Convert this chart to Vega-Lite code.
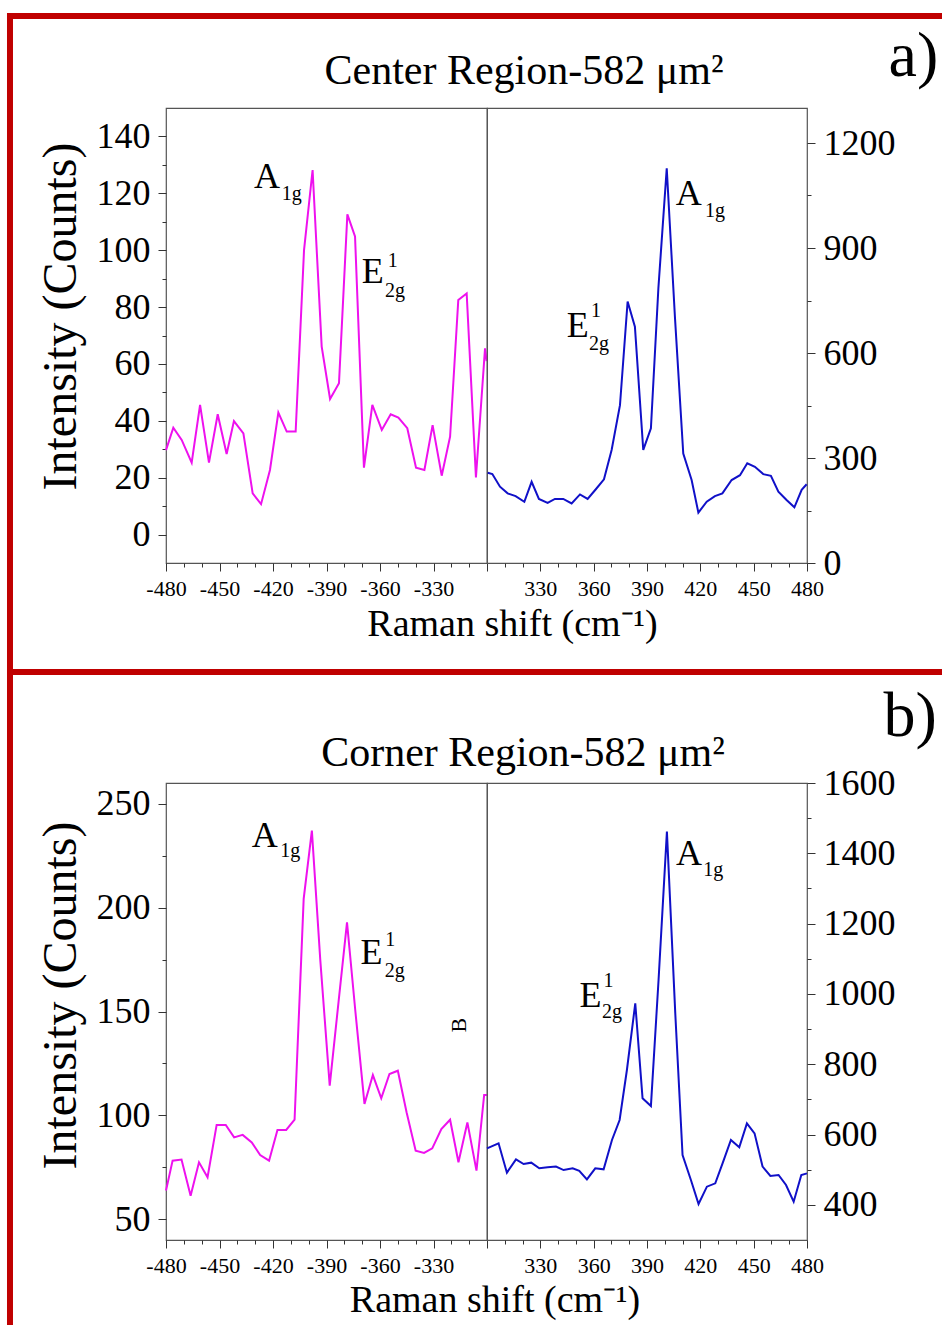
{
  "$schema": "https://vega.github.io/schema/vega-lite/v6.json",
  "background": "white",
  "padding": {"left": 5, "top": 11, "right": 0, "bottom": 0},
  "columns": 2,
  "spacing": {"row": 220, "column": 0},
  "bounds": "flush",
  "datasets": {
    "centerNeg": [
      {"shift": -480, "counts": 29.7}, {"shift": -475.9, "counts": 37.6}, {"shift": -471.2, "counts": 33.3}, {"shift": -465.6, "counts": 25.3},
      {"shift": -460.9, "counts": 45.6}, {"shift": -455.9, "counts": 25.3}, {"shift": -451, "counts": 42.3}, {"shift": -446, "counts": 28.3},
      {"shift": -441.9, "counts": 39.9}, {"shift": -436.6, "counts": 35.6}, {"shift": -431.4, "counts": 14.5}, {"shift": -426.7, "counts": 10.7},
      {"shift": -421.7, "counts": 22.7}, {"shift": -417, "counts": 42.9}, {"shift": -412.3, "counts": 36.2}, {"shift": -407.3, "counts": 36.2},
      {"shift": -402.6, "counts": 100}, {"shift": -397.8, "counts": 128.2}, {"shift": -392.7, "counts": 66.1}, {"shift": -388, "counts": 47.7},
      {"shift": -383, "counts": 53.2}, {"shift": -378.3, "counts": 112.6}, {"shift": -374, "counts": 104.8}, {"shift": -369, "counts": 23.5},
      {"shift": -364.3, "counts": 45.6}, {"shift": -359, "counts": 36.8}, {"shift": -354, "counts": 42.3}, {"shift": -349.7, "counts": 41.1},
      {"shift": -344.7, "counts": 37.4}, {"shift": -339.8, "counts": 23.5}, {"shift": -335.1, "counts": 22.7}, {"shift": -330.5, "counts": 38.5},
      {"shift": -325.4, "counts": 20.7}, {"shift": -320.7, "counts": 34.4}, {"shift": -316.1, "counts": 82.5}, {"shift": -311.4, "counts": 84.8},
      {"shift": -306.2, "counts": 20.1}, {"shift": -301.1, "counts": 65.5}, {"shift": -300.2, "counts": 61}
    ],
    "centerPos": [
      {"shift": 300.4, "counts": 258}, {"shift": 303, "counts": 254}, {"shift": 307.3, "counts": 218}, {"shift": 311.6, "counts": 199},
      {"shift": 316.1, "counts": 191}, {"shift": 321, "counts": 175}, {"shift": 325.1, "counts": 232}, {"shift": 329.2, "counts": 183},
      {"shift": 334.1, "counts": 172}, {"shift": 338.2, "counts": 183}, {"shift": 342.9, "counts": 183}, {"shift": 347.6, "counts": 170},
      {"shift": 352.3, "counts": 196}, {"shift": 356.6, "counts": 183}, {"shift": 361.1, "counts": 210}, {"shift": 365.8, "counts": 239},
      {"shift": 370.1, "counts": 323}, {"shift": 374.8, "counts": 451}, {"shift": 379.1, "counts": 747}, {"shift": 383.2, "counts": 675},
      {"shift": 387.9, "counts": 323}, {"shift": 392.2, "counts": 385}, {"shift": 396.4, "counts": 785}, {"shift": 401.1, "counts": 1128},
      {"shift": 405.7, "counts": 704}, {"shift": 410.4, "counts": 313}, {"shift": 415.1, "counts": 237}, {"shift": 418.9, "counts": 144},
      {"shift": 423.6, "counts": 175}, {"shift": 428.2, "counts": 191}, {"shift": 432.4, "counts": 199}, {"shift": 437.6, "counts": 237},
      {"shift": 442.3, "counts": 251}, {"shift": 446.4, "counts": 285}, {"shift": 450.7, "counts": 275}, {"shift": 455.4, "counts": 254},
      {"shift": 459.7, "counts": 249}, {"shift": 463.9, "counts": 204}, {"shift": 468.5, "counts": 180}, {"shift": 472.9, "counts": 159},
      {"shift": 477, "counts": 209}, {"shift": 479.8, "counts": 225}
    ],
    "cornerNeg": [
      {"shift": -480, "counts": 63.8}, {"shift": -476.3, "counts": 78.2}, {"shift": -471.3, "counts": 78.7}, {"shift": -466.2, "counts": 61.3},
      {"shift": -461.5, "counts": 77.4}, {"shift": -456.7, "counts": 70.2}, {"shift": -451.6, "counts": 95.4}, {"shift": -446.5, "counts": 95.4},
      {"shift": -441.8, "counts": 89.4}, {"shift": -437, "counts": 90.6}, {"shift": -431.9, "counts": 87}, {"shift": -427.2, "counts": 80.9},
      {"shift": -422.2, "counts": 78.2}, {"shift": -417.5, "counts": 93}, {"shift": -412.6, "counts": 93}, {"shift": -407.9, "counts": 97.9},
      {"shift": -402.8, "counts": 204.2}, {"shift": -398.2, "counts": 237.1}, {"shift": -393.5, "counts": 175}, {"shift": -388.2, "counts": 114.3},
      {"shift": -383.2, "counts": 155}, {"shift": -378.5, "counts": 192.9}, {"shift": -373.8, "counts": 150}, {"shift": -368.7, "counts": 105.5},
      {"shift": -364, "counts": 119.4}, {"shift": -359.3, "counts": 108.2}, {"shift": -354.7, "counts": 119.9}, {"shift": -350, "counts": 121.5},
      {"shift": -345.1, "counts": 101.5}, {"shift": -340, "counts": 83}, {"shift": -335.3, "counts": 81.9}, {"shift": -330.7, "counts": 84.1},
      {"shift": -325.6, "counts": 93.4}, {"shift": -320.7, "counts": 97.9}, {"shift": -316, "counts": 77.4}, {"shift": -311, "counts": 96.6},
      {"shift": -305.9, "counts": 73.4}, {"shift": -301.6, "counts": 109.8}, {"shift": -300, "counts": 109.8}
    ],
    "cornerPos": [
      {"shift": 300, "counts": 560.8}, {"shift": 306.5, "counts": 575}, {"shift": 311.2, "counts": 491.5}, {"shift": 316.3, "counts": 529.5},
      {"shift": 320.6, "counts": 516}, {"shift": 324.9, "counts": 520}, {"shift": 329.4, "counts": 504}, {"shift": 334.1, "counts": 507},
      {"shift": 338.8, "counts": 509}, {"shift": 343.1, "counts": 499}, {"shift": 348.2, "counts": 504}, {"shift": 351.9, "counts": 497},
      {"shift": 356.2, "counts": 472.6}, {"shift": 360.9, "counts": 504}, {"shift": 365.6, "counts": 501}, {"shift": 370.3, "counts": 584.5},
      {"shift": 374.6, "counts": 641.4}, {"shift": 378.7, "counts": 783.6}, {"shift": 383.4, "counts": 973.2}, {"shift": 387.5, "counts": 703},
      {"shift": 392.2, "counts": 681}, {"shift": 396.5, "counts": 1039.6}, {"shift": 401.2, "counts": 1461.6}, {"shift": 405.9, "counts": 944.8},
      {"shift": 410, "counts": 541.8}, {"shift": 414.7, "counts": 470.7}, {"shift": 419, "counts": 402.4}, {"shift": 423.7, "counts": 451.7},
      {"shift": 428.4, "counts": 461.2}, {"shift": 432.5, "counts": 518.1}, {"shift": 437.2, "counts": 584.5}, {"shift": 441.9, "counts": 563.6},
      {"shift": 446.2, "counts": 631.9}, {"shift": 450.5, "counts": 603.4}, {"shift": 455, "counts": 509}, {"shift": 459.4, "counts": 482.1},
      {"shift": 464, "counts": 484.9}, {"shift": 468.2, "counts": 456.5}, {"shift": 472.5, "counts": 409}, {"shift": 476.8, "counts": 484.9},
      {"shift": 480, "counts": 489.6}
    ],
    "bigCenterNeg": [{"x": -430.65, "y": 121.87, "label": "A"}, {"x": -370.26, "y": 88.46, "label": "E"}],
    "subCenterNeg": [{"x": -415.12, "y": 117.65, "label": "1g"}, {"x": -355.68, "y": 94.09, "label": "1"}, {"x": -357.2, "y": 83.54, "label": "2g"}],
    "bigCenterPos": [{"x": 406.14, "y": 1022.86, "label": "A"}, {"x": 344.83, "y": 645.7, "label": "E"}],
    "subCenterPos": [{"x": 422.6, "y": 988.6, "label": "1g"}, {"x": 358.5, "y": 702.9, "label": "1"}, {"x": 357.4, "y": 608.6, "label": "2g"}],
    "bigCornerNeg": [{"x": -431.9, "y": 229.2, "label": "A"}, {"x": -370.99, "y": 172.87, "label": "E"}],
    "subCornerNeg": [{"x": -416, "y": 224.4, "label": "1g"}, {"x": -357.1, "y": 181.5, "label": "1"}, {"x": -357.3, "y": 166.6, "label": "2g"}],
    "strayCornerNeg": [{"x": -315.6, "y": 143.4, "label": "B"}],
    "bigCornerPos": [{"x": 406.3, "y": 1366.7, "label": "A"}, {"x": 352.1, "y": 963.7, "label": "E"}],
    "subCornerPos": [{"x": 421.7, "y": 1335.4, "label": "1g"}, {"x": 365.6, "y": 1019.7, "label": "1"}, {"x": 364.7, "y": 931.5, "label": "2g"}]
  },
  "concat": [
    {
      "width": 321,
      "height": 455,
      "resolve": {"axis": {"x": "independent", "y": "independent"}},
      "layer": [
        {
          "data": {"name": "centerNeg"},
          "mark": {"type": "line", "color": "#ee11ee", "strokeWidth": 2},
          "encoding": {
            "x": {"field": "shift", "type": "quantitative", "scale": {"domain": [-480, -300], "nice": false, "zero": false},
              "axis": {"orient": "bottom", "values": [-480, -470, -460, -450, -440, -430, -420, -410, -400, -390, -380, -370, -360, -350, -340, -330, -320, -310, -300],
                "labelExpr": "datum.value % 30 === 0 && datum.value < -300 ? '' + datum.value : ''",
                "tickSize": {"condition": {"test": "datum.value % 30 === 0", "value": 8}, "value": 4},
                "labelFontSize": 22, "labelPadding": 7, "labelOverlap": false, "labelFlush": false, "labelBound": false,
                "title": "Raman shift (cm⁻¹)", "titleFontSize": 38, "titleX": 346, "titleY": 72, "titleAlign": "center", "titleBaseline": "alphabetic"}},
            "y": {"field": "counts", "type": "quantitative", "scale": {"domain": [-10, 150], "nice": false, "zero": false},
              "axis": {"orient": "left", "values": [0, 10, 20, 30, 40, 50, 60, 70, 80, 90, 100, 110, 120, 130, 140],
                "labelExpr": "datum.value % 20 === 0 ? '' + datum.value : ''",
                "tickSize": {"condition": {"test": "datum.value % 20 === 0", "value": 8}, "value": 4},
                "labelFontSize": 36, "labelPadding": 8, "labelOverlap": false,
                "title": "Intensity (Counts)", "titleFontSize": 48, "titleAngle": 270, "titleX": -91, "titleY": 208, "titleAlign": "center", "titleBaseline": "alphabetic"}}
          }
        },
        {
          "data": {"name": "bigCenterNeg"},
          "mark": {"type": "text", "align": "left", "baseline": "alphabetic", "fontSize": 36, "font": "Liberation Serif", "color": "#000000"},
          "encoding": {
            "x": {"field": "x", "type": "quantitative", "scale": {"domain": [-480, -300], "nice": false, "zero": false},
              "axis": {"orient": "top", "domain": false, "ticks": false, "labels": false, "grid": false,
                "title": "Center Region-582 μm²", "titleFontSize": 42, "titleX": 357.5, "titleY": -25, "titleAlign": "center", "titleBaseline": "alphabetic"}},
            "y": {"field": "y", "type": "quantitative", "scale": {"domain": [-10, 150], "nice": false, "zero": false}, "axis": null},
            "text": {"field": "label"}
          }
        },
        {
          "data": {"name": "subCenterNeg"},
          "mark": {"type": "text", "align": "left", "baseline": "alphabetic", "fontSize": 20, "font": "Liberation Serif", "color": "#000000"},
          "encoding": {
            "x": {"field": "x", "type": "quantitative", "scale": {"domain": [-480, -300], "nice": false, "zero": false}, "axis": null},
            "y": {"field": "y", "type": "quantitative", "scale": {"domain": [-10, 150], "nice": false, "zero": false}, "axis": null},
            "text": {"field": "label"}
          }
        },
        {
          "data": {"values": [{}]},
          "mark": {"type": "rule", "color": "#c00000", "strokeWidth": 6, "strokeCap": "square"},
          "encoding": {
            "x": {"datum": -567.48, "type": "quantitative", "scale": {"domain": [-480, -300], "nice": false, "zero": false}, "axis": null},
            "y": {"datum": 182.35, "type": "quantitative", "scale": {"domain": [-10, 150], "nice": false, "zero": false}, "axis": null},
            "y2": {"datum": -276.9}
          }
        },
        {
          "data": {"values": [{}]},
          "mark": {"type": "rule", "color": "#c00000", "strokeWidth": 6, "strokeCap": "square"},
          "encoding": {
            "x": {"datum": -567.48, "type": "quantitative", "scale": {"domain": [-480, -300], "nice": false, "zero": false}, "axis": null},
            "x2": {"datum": -46.54},
            "y": {"datum": 182.35, "type": "quantitative", "scale": {"domain": [-10, 150], "nice": false, "zero": false}, "axis": null}
          }
        },
        {
          "data": {"values": [{}]},
          "mark": {"type": "rule", "color": "#c00000", "strokeWidth": 6, "strokeCap": "square"},
          "encoding": {
            "x": {"datum": -567.48, "type": "quantitative", "scale": {"domain": [-480, -300], "nice": false, "zero": false}, "axis": null},
            "x2": {"datum": -46.54},
            "y": {"datum": -48.33, "type": "quantitative", "scale": {"domain": [-10, 150], "nice": false, "zero": false}, "axis": null}
          }
        }
      ]
    },
    {
      "width": 320,
      "height": 455,
      "resolve": {"axis": {"x": "independent", "y": "independent"}},
      "layer": [
        {
          "data": {"name": "centerPos"},
          "mark": {"type": "line", "color": "#1010c8", "strokeWidth": 2},
          "encoding": {
            "x": {"field": "shift", "type": "quantitative", "scale": {"domain": [300, 480], "nice": false, "zero": false},
              "axis": {"orient": "bottom", "values": [310, 320, 330, 340, 350, 360, 370, 380, 390, 400, 410, 420, 430, 440, 450, 460, 470, 480],
                "labelExpr": "datum.value % 30 === 0 ? '' + datum.value : ''",
                "tickSize": {"condition": {"test": "datum.value % 30 === 0", "value": 8}, "value": 4},
                "labelFontSize": 22, "labelPadding": 7, "labelOverlap": false, "labelFlush": false, "labelBound": false, "title": null}},
            "y": {"field": "counts", "type": "quantitative", "scale": {"domain": [0, 1300], "nice": false, "zero": false},
              "axis": {"orient": "right", "values": [0, 150, 300, 450, 600, 750, 900, 1050, 1200],
                "labelExpr": "datum.value % 300 === 0 ? '' + datum.value : ''",
                "tickSize": {"condition": {"test": "datum.value % 300 === 0", "value": 8}, "value": 4},
                "labelFontSize": 36, "labelPadding": 8, "labelOverlap": false, "title": null}}
          }
        },
        {
          "data": {"name": "bigCenterPos"},
          "mark": {"type": "text", "align": "left", "baseline": "alphabetic", "fontSize": 36, "font": "Liberation Serif", "color": "#000000"},
          "encoding": {
            "x": {"field": "x", "type": "quantitative", "scale": {"domain": [300, 480], "nice": false, "zero": false},
              "axis": {"orient": "top", "domain": false, "ticks": false, "labels": false, "grid": false,
                "title": "a)", "titleFontSize": 64, "titleX": 401, "titleY": -33, "titleAlign": "left", "titleBaseline": "alphabetic"}},
            "y": {"field": "y", "type": "quantitative", "scale": {"domain": [0, 1300], "nice": false, "zero": false}, "axis": null},
            "text": {"field": "label"}
          }
        },
        {
          "data": {"name": "subCenterPos"},
          "mark": {"type": "text", "align": "left", "baseline": "alphabetic", "fontSize": 20, "font": "Liberation Serif", "color": "#000000"},
          "encoding": {
            "x": {"field": "x", "type": "quantitative", "scale": {"domain": [300, 480], "nice": false, "zero": false}, "axis": null},
            "y": {"field": "y", "type": "quantitative", "scale": {"domain": [0, 1300], "nice": false, "zero": false}, "axis": null},
            "text": {"field": "label"}
          }
        }
      ]
    },
    {
      "width": 321,
      "height": 457,
      "resolve": {"axis": {"x": "independent", "y": "independent"}},
      "layer": [
        {
          "data": {"name": "cornerNeg"},
          "mark": {"type": "line", "color": "#ee11ee", "strokeWidth": 2},
          "encoding": {
            "x": {"field": "shift", "type": "quantitative", "scale": {"domain": [-480, -300], "nice": false, "zero": false},
              "axis": {"orient": "bottom", "values": [-480, -470, -460, -450, -440, -430, -420, -410, -400, -390, -380, -370, -360, -350, -340, -330, -320, -310, -300],
                "labelExpr": "datum.value % 30 === 0 && datum.value < -300 ? '' + datum.value : ''",
                "tickSize": {"condition": {"test": "datum.value % 30 === 0", "value": 8}, "value": 4},
                "labelFontSize": 22, "labelPadding": 7, "labelOverlap": false, "labelFlush": false, "labelBound": false,
                "title": "Raman shift (cm⁻¹)", "titleFontSize": 38, "titleX": 328.5, "titleY": 71.7, "titleAlign": "center", "titleBaseline": "alphabetic"}},
            "y": {"field": "counts", "type": "quantitative", "scale": {"domain": [40, 260], "nice": false, "zero": false},
              "axis": {"orient": "left", "values": [50, 75, 100, 125, 150, 175, 200, 225, 250],
                "labelExpr": "datum.value % 50 === 0 ? '' + datum.value : ''",
                "tickSize": {"condition": {"test": "datum.value % 50 === 0", "value": 8}, "value": 4},
                "labelFontSize": 36, "labelPadding": 8, "labelOverlap": false,
                "title": "Intensity (Counts)", "titleFontSize": 48, "titleAngle": 270, "titleX": -91, "titleY": 212, "titleAlign": "center", "titleBaseline": "alphabetic"}}
          }
        },
        {
          "data": {"name": "bigCornerNeg"},
          "mark": {"type": "text", "align": "left", "baseline": "alphabetic", "fontSize": 36, "font": "Liberation Serif", "color": "#000000"},
          "encoding": {
            "x": {"field": "x", "type": "quantitative", "scale": {"domain": [-480, -300], "nice": false, "zero": false},
              "axis": {"orient": "top", "domain": false, "ticks": false, "labels": false, "grid": false,
                "title": "Corner Region-582 μm²", "titleFontSize": 42, "titleX": 356.5, "titleY": -18, "titleAlign": "center", "titleBaseline": "alphabetic"}},
            "y": {"field": "y", "type": "quantitative", "scale": {"domain": [40, 260], "nice": false, "zero": false}, "axis": null},
            "text": {"field": "label"}
          }
        },
        {
          "data": {"name": "subCornerNeg"},
          "mark": {"type": "text", "align": "left", "baseline": "alphabetic", "fontSize": 20, "font": "Liberation Serif", "color": "#000000"},
          "encoding": {
            "x": {"field": "x", "type": "quantitative", "scale": {"domain": [-480, -300], "nice": false, "zero": false}, "axis": null},
            "y": {"field": "y", "type": "quantitative", "scale": {"domain": [40, 260], "nice": false, "zero": false}, "axis": null},
            "text": {"field": "label"}
          }
        },
        {
          "data": {"name": "strayCornerNeg"},
          "mark": {"type": "text", "align": "center", "baseline": "middle", "angle": 270, "fontSize": 22, "font": "Liberation Serif", "color": "#000000"},
          "encoding": {
            "x": {"field": "x", "type": "quantitative", "scale": {"domain": [-480, -300], "nice": false, "zero": false}, "axis": null},
            "y": {"field": "y", "type": "quantitative", "scale": {"domain": [40, 260], "nice": false, "zero": false}, "axis": null},
            "text": {"field": "label"}
          }
        }
      ]
    },
    {
      "width": 320,
      "height": 457,
      "resolve": {"axis": {"x": "independent", "y": "independent"}},
      "layer": [
        {
          "data": {"name": "cornerPos"},
          "mark": {"type": "line", "color": "#1010c8", "strokeWidth": 2},
          "encoding": {
            "x": {"field": "shift", "type": "quantitative", "scale": {"domain": [300, 480], "nice": false, "zero": false},
              "axis": {"orient": "bottom", "values": [310, 320, 330, 340, 350, 360, 370, 380, 390, 400, 410, 420, 430, 440, 450, 460, 470, 480],
                "labelExpr": "datum.value % 30 === 0 ? '' + datum.value : ''",
                "tickSize": {"condition": {"test": "datum.value % 30 === 0", "value": 8}, "value": 4},
                "labelFontSize": 22, "labelPadding": 7, "labelOverlap": false, "labelFlush": false, "labelBound": false, "title": null}},
            "y": {"field": "counts", "type": "quantitative", "scale": {"domain": [300, 1600], "nice": false, "zero": false},
              "axis": {"orient": "right", "values": [400, 500, 600, 700, 800, 900, 1000, 1100, 1200, 1300, 1400, 1500, 1600],
                "labelExpr": "datum.value % 200 === 0 ? '' + datum.value : ''",
                "tickSize": {"condition": {"test": "datum.value % 200 === 0", "value": 8}, "value": 4},
                "labelFontSize": 36, "labelPadding": 8, "labelOverlap": false, "title": null}}
          }
        },
        {
          "data": {"name": "bigCornerPos"},
          "mark": {"type": "text", "align": "left", "baseline": "alphabetic", "fontSize": 36, "font": "Liberation Serif", "color": "#000000"},
          "encoding": {
            "x": {"field": "x", "type": "quantitative", "scale": {"domain": [300, 480], "nice": false, "zero": false},
              "axis": {"orient": "top", "domain": false, "ticks": false, "labels": false, "grid": false,
                "title": "b)", "titleFontSize": 64, "titleX": 396, "titleY": -48, "titleAlign": "left", "titleBaseline": "alphabetic"}},
            "y": {"field": "y", "type": "quantitative", "scale": {"domain": [300, 1600], "nice": false, "zero": false}, "axis": null},
            "text": {"field": "label"}
          }
        },
        {
          "data": {"name": "subCornerPos"},
          "mark": {"type": "text", "align": "left", "baseline": "alphabetic", "fontSize": 20, "font": "Liberation Serif", "color": "#000000"},
          "encoding": {
            "x": {"field": "x", "type": "quantitative", "scale": {"domain": [300, 480], "nice": false, "zero": false}, "axis": null},
            "y": {"field": "y", "type": "quantitative", "scale": {"domain": [300, 1600], "nice": false, "zero": false}, "axis": null},
            "text": {"field": "label"}
          }
        }
      ]
    }
  ],
  "config": {
    "view": {"stroke": "#555555", "strokeWidth": 1.2},
    "axis": {"grid": false, "domain": false, "tickColor": "#333333", "tickWidth": 1, "labelColor": "#000000", "titleColor": "#000000",
      "labelFont": "Liberation Serif", "titleFont": "Liberation Serif", "titleFontWeight": "normal"},
    "text": {"font": "Liberation Serif", "color": "#000000"}
  }
}
